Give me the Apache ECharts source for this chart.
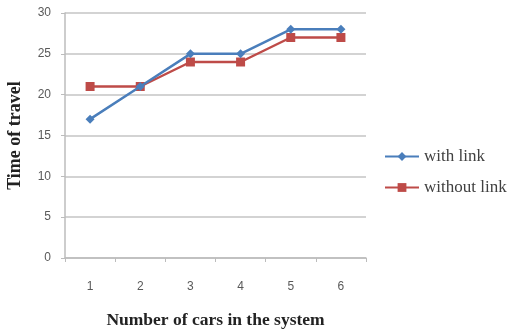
<!DOCTYPE html>
<html>
<head>
<meta charset="utf-8">
<script src="https://cdn.jsdelivr.net/npm/echarts@6/dist/echarts.min.js"></script>
<style>
  html, body { margin: 0; padding: 0; background: #fff; }
  #chart { width: 509px; height: 332px; }
</style>
</head>
<body>
<div id="chart"></div>
<script>
// Travel time as the number of cars grows
const carCounts = ['1', '2', '3', '4', '5', '6'];
const withLink = [17, 21, 25, 25, 28, 28];
const withoutLink = [21, 21, 24, 24, 27, 27];

const chart = echarts.init(document.getElementById('chart'), null, { renderer: 'canvas' });

const serif = '"Liberation Serif", "Times New Roman", serif';
const sans = '"Liberation Sans", Arial, sans-serif';

chart.setOption({
  animation: false,
  backgroundColor: '#ffffff',
  grid: { left: 65, right: 143, top: 13, bottom: 74, outerBoundsMode: 'none', containLabel: false },
  legend: {
    orient: 'vertical',
    left: 379,
    top: 143,
    itemWidth: 34,
    itemHeight: 11,
    itemGap: 14,
    textStyle: { fontFamily: serif, fontSize: 17, color: '#404040' },
    data: ['with link', 'without link']
  },
  xAxis: {
    type: 'category',
    data: carCounts,
    boundaryGap: true,
    name: 'Number of cars in the system',
    nameLocation: 'middle',
    nameGap: 53,
    nameTextStyle: { fontFamily: serif, fontSize: 17.5, fontWeight: 'bold', color: '#222' },
    axisLine: { lineStyle: { color: '#bcbcbc', width: 1.5 } },
    axisTick: { show: true, length: 4, lineStyle: { color: '#bcbcbc' } },
    axisLabel: { fontFamily: sans, fontSize: 12, color: '#595959', margin: 23 },
    splitLine: { show: false }
  },
  yAxis: {
    type: 'value',
    min: 0,
    max: 30,
    interval: 5,
    name: 'Time of travel',
    nameLocation: 'middle',
    nameGap: 41,
    nameTextStyle: { fontFamily: serif, fontSize: 18, fontWeight: 'bold', color: '#222' },
    axisLine: { show: true, lineStyle: { color: '#bcbcbc', width: 1.5 } },
    axisTick: { show: true, length: 4, lineStyle: { color: '#bcbcbc' } },
    axisLabel: { fontFamily: sans, fontSize: 12, color: '#595959', margin: 14 },
    splitLine: { show: true, lineStyle: { color: '#c4c4c4', width: 1.5 } }
  },
  series: [
    {
      name: 'with link',
      type: 'line',
      data: withLink,
      symbol: 'diamond',
      symbolSize: 9,
      color: '#4a7ebb',
      lineStyle: { width: 2.5, color: '#4a7ebb' },
      itemStyle: { color: '#4a7ebb' },
      z: 3
    },
    {
      name: 'without link',
      type: 'line',
      data: withoutLink,
      symbol: 'rect',
      symbolSize: 9,
      color: '#be4b48',
      lineStyle: { width: 2.5, color: '#be4b48' },
      itemStyle: { color: '#be4b48' },
      z: 2
    }
  ]
});
</script>
</body>
</html>
